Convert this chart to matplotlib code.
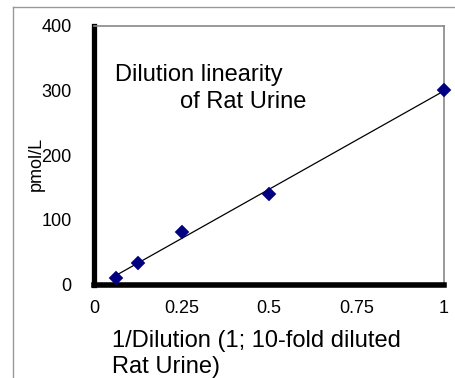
import numpy as np
import matplotlib
matplotlib.use("Agg")
import matplotlib.pyplot as plt
from matplotlib.lines import Line2D

plt.rcParams['font.family'] = ['Liberation Sans', 'DejaVu Sans']

# Data
inv_dilution = [0.0625, 0.125, 0.25, 0.5, 1.0]
pmol_per_l = [10, 33, 81, 140, 301]
x_ticks = [0, 0.25, 0.5, 0.75, 1]
x_tick_labels = ["0", "0.25", "0.5", "0.75", "1"]
y_ticks = [0, 100, 200, 300, 400]
y_tick_labels = ["0", "100", "200", "300", "400"]

W, H = 455, 378
fig = plt.figure(figsize=(W / 100, H / 100), dpi=100)

def fx(px):
    return px / W

def fy(py):
    return 1 - py / H

# axes placement (pixels)
left, right, top, bottom = 94, 444, 26, 284.5
ax = fig.add_axes([fx(left), fy(bottom), (right - left) / W, (bottom - top) / H])
ax.set_xlim(0, 1)
ax.set_ylim(0, 400)

# trendline (least squares)
slope, intercept = np.polyfit(inv_dilution, pmol_per_l, 1)
xs = np.array([min(inv_dilution), max(inv_dilution)])
ax.plot(xs, slope * xs + intercept, color='black', lw=0.9, zorder=2)

ax.plot(inv_dilution, pmol_per_l, linestyle='none', marker='D', ms=7.5,
        color='#000080', mec='#000080', mew=0.3, zorder=3, clip_on=False)

ax.set_xticks(x_ticks)
ax.set_xticklabels(x_tick_labels)
ax.set_yticks(y_ticks)
ax.set_yticklabels(y_tick_labels, va='center_baseline')
ax.tick_params(axis='both', length=0, labelsize=13)
ax.tick_params(axis='y', pad=16)
ax.tick_params(axis='x', pad=11)

for s in ['left', 'bottom']:
    ax.spines[s].set_color('black')
ax.spines['left'].set_linewidth(3.8)
ax.spines['bottom'].set_linewidth(4.0)
for s in ['top', 'right']:
    ax.spines[s].set_color('#888888')
    ax.spines[s].set_linewidth(1.2)

# in-plot title
fig.text(fx(115), fy(81.5), "Dilution linearity", fontsize=17, ha='left', va='baseline')
fig.text(fx(180), fy(108.5), "of Rat Urine", fontsize=17, ha='left', va='baseline')

# axis titles
fig.text(fx(112), fy(347), "1/Dilution (1; 10-fold diluted", fontsize=17, ha='left', va='baseline')
fig.text(fx(112), fy(373), "Rat Urine)", fontsize=17, ha='left', va='baseline')
fig.text(fx(36), fy(164), "pmol/L", fontsize=13, rotation=90, ha='center', va='center')

# outer chart border (top and left visible)
fig.add_artist(Line2D([fx(13), 1], [fy(7), fy(7)], color='#999999', lw=1.0))
fig.add_artist(Line2D([fx(13), fx(13)], [fy(7), 0], color='#999999', lw=1.0))

fig.savefig("out.png", dpi=100)
